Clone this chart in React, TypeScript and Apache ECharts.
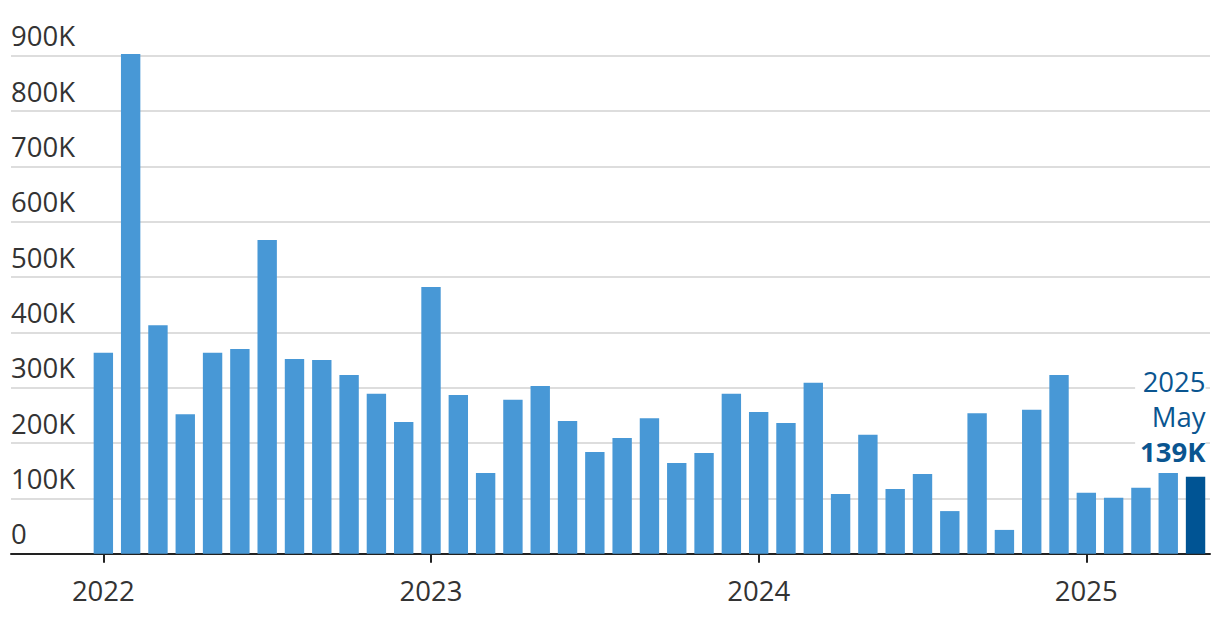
import React, { useEffect, useRef } from 'react';
import * as echarts from 'echarts';

const categories = [
  '2022-01', '2022-02', '2022-03', '2022-04', '2022-05', '2022-06', '2022-07', '2022-08', '2022-09', '2022-10', '2022-11', '2022-12',
  '2023-01', '2023-02', '2023-03', '2023-04', '2023-05', '2023-06', '2023-07', '2023-08', '2023-09', '2023-10', '2023-11', '2023-12',
  '2024-01', '2024-02', '2024-03', '2024-04', '2024-05', '2024-06', '2024-07', '2024-08', '2024-09', '2024-10', '2024-11', '2024-12',
  '2025-01', '2025-02', '2025-03', '2025-04', '2025-05',
];

// values in thousands
const values = [
  363, 903, 413, 252, 363, 370, 567, 352, 350, 323, 289, 238,
  482, 287, 146, 278, 303, 240, 184, 209, 245, 164, 182, 289,
  256, 236, 309, 108, 215, 117, 144, 77, 254, 43, 260, 323,
  110, 101, 119, 146, 139,
];

const monthNames = ['Jan', 'Feb', 'Mar', 'Apr', 'May', 'Jun', 'Jul', 'Aug', 'Sep', 'Oct', 'Nov', 'Dec'];

const FONT = 'Open Sans';
const FS = 27.5;
const BAR = '#4898d6';
const BAR_LAST = '#005494';
const NOTE = '#0a5590';

export default function App() {
  const ref = useRef<HTMLDivElement>(null);
  useEffect(() => {
    document.body.style.margin = '0';
    const chart = echarts.init(ref.current!, null, { renderer: 'svg' });
    const last = values.length - 1;
    const [ly, lm] = categories[last].split('-');
    const note = `{y|${ly}}\n{m|${monthNames[parseInt(lm, 10) - 1]}}\n{v|${values[last]}K}`;
    const gridPos = { top: 55.7, bottom: 74.3 };
    chart.setOption({
      animation: false,
      textStyle: { fontFamily: FONT },
      grid: [
        { left: 11, right: 10, ...gridPos },
        { left: 89.7, right: 10.8, ...gridPos },
      ],
      xAxis: [
        {
          gridIndex: 0, type: 'value', min: 0, max: 1,
          axisLine: { show: true, onZero: false, lineStyle: { color: '#222', width: 2 } },
          axisTick: { show: false }, axisLabel: { show: false }, splitLine: { show: false },
        },
        {
          gridIndex: 1, type: 'category', data: categories,
          axisLine: { show: false },
          axisTick: {
            show: true, alignWithLabel: true, interval: (i: number) => i % 12 === 0,
            length: 9, lineStyle: { color: '#222', width: 2 },
          },
          axisLabel: {
            interval: (i: number) => i % 12 === 0,
            formatter: (v: string) => v.slice(0, 4),
            fontSize: FS, color: '#333', margin: 23, fontFamily: FONT,
          },
        },
      ],
      yAxis: [
        {
          gridIndex: 0, type: 'value', min: 0, max: 900, interval: 100,
          axisLine: { show: false }, axisTick: { show: false },
          splitLine: { show: true, lineStyle: { color: '#d2d2d2', width: 1.5 } },
          axisLabel: {
            inside: true, margin: 0, align: 'left', verticalAlign: 'bottom',
            padding: [0, 0, 6, 0],
            formatter: (v: number) => (v === 0 ? '0' : `${v}K`),
            fontSize: FS, color: '#333', fontFamily: FONT,
          },
        },
        { gridIndex: 1, type: 'value', min: 0, max: 900, interval: 100, show: false },
      ],
      series: [
        {
          type: 'bar', xAxisIndex: 1, yAxisIndex: 1, barWidth: '71%', clip: false,
          itemStyle: { color: BAR },
          data: values.map((v, i) =>
            i === last
              ? {
                  value: v,
                  itemStyle: { color: BAR_LAST },
                  label: {
                    show: true, position: 'top', align: 'right', distance: 8, offset: [10, 0],
                    formatter: note, backgroundColor: '#fff', padding: [0, 0, 0, 5],
                    rich: {
                      y: { fontSize: FS, color: NOTE, fontFamily: FONT, lineHeight: 35, align: 'right' },
                      m: { fontSize: FS, color: NOTE, fontFamily: FONT, lineHeight: 35, align: 'right' },
                      v: { fontSize: FS, color: NOTE, fontFamily: FONT, lineHeight: 35, fontWeight: 'bold', align: 'right' },
                    },
                  },
                }
              : v
          ),
        },
      ],
    });
    return () => chart.dispose();
  }, []);
  return <div ref={ref} style={{ width: 1220, height: 628 }} />;
}
